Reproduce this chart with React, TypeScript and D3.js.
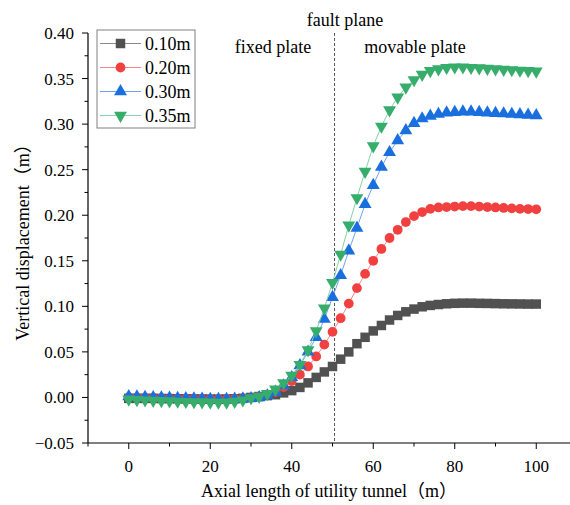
import React, { useRef, useEffect } from 'react';
import * as d3 from 'd3';

// axial positions (m), step 2
const positions = d3.range(0, 101, 2);

const seriesNames = ['0.10m', '0.20m', '0.30m', '0.35m'];
const seriesColors = ['#515151', '#F14040', '#1A6FDF', '#37AD6B'];
const lineColors = ['#8a8a8a', '#f58a8a', '#6fa3ea', '#88d0a6'];
const markerTypes = ['square', 'circle', 'triangleUp', 'triangleDown'];

// vertical displacement (m)
const disp010 = [
  -0.001, -0.001, -0.001, -0.001, -0.0012, -0.0013, -0.0014, -0.0015, -0.0016, -0.0017,
  -0.0018, -0.0018, -0.0017, -0.0015, -0.001, 0.0, 0.001, 0.002, 0.003, 0.005,
  0.0075, 0.011, 0.016, 0.022, 0.028, 0.034, 0.042, 0.05, 0.059, 0.066,
  0.073, 0.079, 0.085, 0.09, 0.094, 0.097, 0.0995, 0.101, 0.102, 0.1028,
  0.1033, 0.1035, 0.1035, 0.1033, 0.1032, 0.103, 0.1028, 0.1027, 0.1026, 0.1025, 0.1025,
];
const disp020 = [
  0.0, -0.0002, -0.0004, -0.0006, -0.0008, -0.001, -0.0012, -0.0014, -0.0016, -0.0018,
  -0.002, -0.002, -0.0018, -0.0015, -0.001, -0.0005, 0.001, 0.003, 0.0058, 0.0113,
  0.018, 0.025, 0.034, 0.045, 0.058, 0.072, 0.087, 0.103, 0.12, 0.1356,
  0.15, 0.163, 0.175, 0.184, 0.1925, 0.199, 0.2035, 0.207, 0.2085, 0.209,
  0.2095, 0.21, 0.21, 0.2095, 0.209, 0.2085, 0.208, 0.2075, 0.207, 0.2068, 0.2065,
];
const disp030 = [
  0.001, 0.0007, 0.0004, 0.0001, -0.0002, -0.0005, -0.0008, -0.001, -0.0013, -0.0016,
  -0.002, -0.002, -0.0019, -0.0017, -0.0014, -0.001, 0.0, 0.002, 0.006, 0.013,
  0.022, 0.035, 0.05, 0.066, 0.086, 0.11, 0.134, 0.161, 0.186, 0.212,
  0.233, 0.253, 0.269, 0.282, 0.293, 0.301, 0.306, 0.309, 0.311, 0.3125,
  0.313, 0.3135, 0.3135, 0.313, 0.3125, 0.312, 0.3115, 0.311, 0.3105, 0.31, 0.3095,
];
const disp035 = [
  -0.002, -0.0025, -0.003, -0.0033, -0.0036, -0.004, -0.0043, -0.0046, -0.0049, -0.0051,
  -0.0053, -0.0054, -0.0052, -0.0045, -0.003, -0.0005, 0.001, 0.004, 0.009, 0.016,
  0.024, 0.036, 0.052, 0.073, 0.098, 0.126, 0.157, 0.189, 0.219, 0.248,
  0.276, 0.2975, 0.3155, 0.3295, 0.3405, 0.3485, 0.3545, 0.3585, 0.3605, 0.362,
  0.3625, 0.3625, 0.362, 0.3615, 0.361, 0.3605, 0.36, 0.3595, 0.359, 0.3585, 0.358,
];
const seriesValues = [disp010, disp020, disp030, disp035];

const xTicks = [0, 20, 40, 60, 80, 100];
const yTicks = [-0.05, 0, 0.05, 0.1, 0.15, 0.2, 0.25, 0.3, 0.35, 0.4];
const faultX = 50.5;

const FONT = '"Liberation Serif", "Times New Roman", "Noto Sans CJK SC", serif';

const markerSymbol = (type: string) => {
  // returns [symbol type, area, rotation]
  if (type === 'circle') return [d3.symbolCircle, 75, 0] as const;
  if (type === 'triangleUp') return [d3.symbolTriangle, 72, 0] as const;
  if (type === 'triangleDown') return [d3.symbolTriangle, 72, 180] as const;
  return [d3.symbolSquare, 90, 0] as const;
};

const App = () => {
  const svgRef = useRef<SVGSVGElement>(null);

  useEffect(() => {
    const svg = d3.select(svgRef.current);
    svg.selectAll('*').remove();

    const x = d3.scaleLinear().domain([-10, 110]).range([88, 577]);
    const y = d3.scaleLinear().domain([-0.05, 0.4]).range([443, 33]);

    svg.append('rect').attr('width', 570).attr('height', 505).attr('fill', '#fff');

    // fault plane
    svg.append('line')
      .attr('x1', x(faultX)).attr('x2', x(faultX))
      .attr('y1', y(0.4)).attr('y2', y(-0.05))
      .attr('stroke', '#555').attr('stroke-width', 1)
      .attr('stroke-dasharray', '3,2');

    // series
    const plot = svg.append('g');
    seriesValues.forEach((vals, i) => {
      const pts = positions.map((p, j) => [p, vals[j]] as [number, number]);
      plot.append('path')
        .attr('d', d3.line().x(d => x(d[0])).y(d => y(d[1]))(pts))
        .attr('fill', 'none')
        .attr('stroke', lineColors[i])
        .attr('stroke-width', 1);

      const [symType, size, rot] = markerSymbol(markerTypes[i]);
      const sym = d3.symbol().type(symType).size(size);
      plot.append('g').selectAll('path')
        .data(pts)
        .enter()
        .append('path')
        .attr('d', sym() as string)
        .attr('transform', d => `translate(${x(d[0])},${y(d[1])}) rotate(${rot})`)
        .attr('fill', seriesColors[i]);
    });

    // x axis
    const xAxis = svg.append('g').attr('transform', `translate(0,${y(-0.05)})`);
    xAxis.append('line').attr('x1', x(-10)).attr('x2', 570).attr('stroke', '#000').attr('stroke-width', 1.2);
    d3.range(-10, 111, 10).forEach(v => {
      const major = xTicks.includes(v);
      xAxis.append('line')
        .attr('x1', x(v)).attr('x2', x(v))
        .attr('y1', 0).attr('y2', major ? 6 : 3.5)
        .attr('stroke', '#000').attr('stroke-width', 1);
    });
    xAxis.selectAll('text.tick')
      .data(xTicks)
      .enter()
      .append('text')
      .attr('x', d => x(d))
      .attr('y', 29)
      .attr('text-anchor', 'middle')
      .attr('font-family', FONT)
      .attr('font-size', 17)
      .text(d => String(d));

    // y axis
    const yAxis = svg.append('g').attr('transform', `translate(${x(-10)},0)`);
    yAxis.append('line').attr('y1', y(-0.05)).attr('y2', y(0.4)).attr('stroke', '#000').attr('stroke-width', 1.2);
    d3.range(-0.05, 0.4001, 0.025).forEach((v, k) => {
      const major = k % 2 === 0;
      yAxis.append('line')
        .attr('x1', 0).attr('x2', major ? -6 : -3.5)
        .attr('y1', y(v)).attr('y2', y(v))
        .attr('stroke', '#000').attr('stroke-width', 1);
    });
    yAxis.selectAll('text.tick')
      .data(yTicks)
      .enter()
      .append('text')
      .attr('x', -14)
      .attr('y', d => y(d))
      .attr('dy', '0.35em')
      .attr('text-anchor', 'end')
      .attr('font-family', FONT)
      .attr('font-size', 17)
      .text(d => d3.format('.2f')(d));

    // axis titles
    svg.append('text')
      .attr('x', 329).attr('y', 497)
      .attr('text-anchor', 'middle')
      .attr('font-family', FONT).attr('font-size', 18)
      .text('Axial length of utility tunnel（m）');
    svg.append('text')
      .attr('transform', 'translate(29,238) rotate(-90)')
      .attr('text-anchor', 'middle')
      .attr('font-family', FONT).attr('font-size', 18)
      .text('Vertical displacement（m）');

    // annotations
    const notes = [
      { text: 'fault plane', x: 345, y: 26 },
      { text: 'fixed plate', x: 273, y: 53 },
      { text: 'movable plate', x: 415, y: 53 },
    ];
    svg.selectAll('text.note')
      .data(notes)
      .enter()
      .append('text')
      .attr('x', d => d.x).attr('y', d => d.y)
      .attr('text-anchor', 'middle')
      .attr('font-family', FONT).attr('font-size', 18)
      .text(d => d.text);

    // legend
    const legend = svg.append('g').attr('transform', 'translate(97,30)');
    legend.append('rect')
      .attr('width', 98).attr('height', 98)
      .attr('fill', '#fff').attr('stroke', '#808080').attr('stroke-width', 1);
    seriesNames.forEach((name, i) => {
      const cy = 13.5 + i * 24;
      const row = legend.append('g').attr('transform', `translate(0,${cy})`);
      row.append('line').attr('x1', 3).attr('x2', 44).attr('stroke', lineColors[i]).attr('stroke-width', 1);
      const [symType, size, rot] = markerSymbol(markerTypes[i]);
      row.append('path')
        .attr('d', d3.symbol().type(symType).size(size)() as string)
        .attr('transform', `translate(23.5,0) rotate(${rot})`)
        .attr('fill', seriesColors[i]);
      row.append('text')
        .attr('x', 48).attr('y', 0).attr('dy', '0.35em')
        .attr('font-family', FONT).attr('font-size', 18)
        .text(name);
    });
  }, []);

  return (
    <svg
      ref={svgRef}
      width={570}
      height={505}
      style={{ position: 'absolute', left: 0, top: 0, display: 'block' }}
    />
  );
};

export default App;
